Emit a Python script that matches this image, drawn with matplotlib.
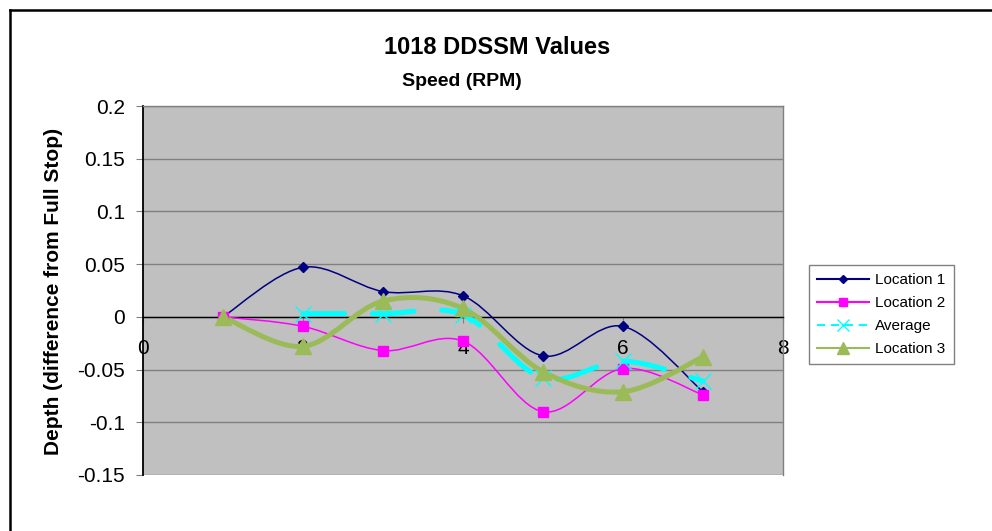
import matplotlib
matplotlib.use("Agg")
import matplotlib.pyplot as plt
from matplotlib.path import Path
from matplotlib.patches import PathPatch
from matplotlib.lines import Line2D
from matplotlib.ticker import FuncFormatter, MultipleLocator

plt.rcParams["font.family"] = ["Liberation Sans", "DejaVu Sans"]
plt.rcParams["axes.unicode_minus"] = False
plt.rcParams["lines.scale_dashes"] = False

# speed steps and measured depth offsets
speed = [1, 2, 3, 4, 5, 6, 7]
location_1 = [0.0, 0.047, 0.024, 0.020, -0.037, -0.009, -0.071]
location_2 = [0.0, -0.009, -0.032, -0.023, -0.090, -0.049, -0.074]
location_3 = [0.0, -0.028, 0.015, 0.008, -0.052, -0.071, -0.038]
avg_speed = [2, 3, 4, 5, 6, 7]
average = [0.003, 0.003, 0.002, -0.058, -0.042, -0.061]

series_names = ["Location 1", "Location 2", "Average", "Location 3"]


def smooth_path(xs, ys):
    """Bezier path through the points, like a spreadsheet 'smoothed line'."""
    pts = list(zip(xs, ys))
    n = len(pts)
    verts = [pts[0]]
    codes = [Path.MOVETO]
    for i in range(n - 1):
        p0 = pts[i - 1] if i > 0 else pts[i]
        p1 = pts[i]
        p2 = pts[i + 1]
        p3 = pts[i + 2] if i + 2 < n else pts[i + 1]
        c1 = (p1[0] + (p2[0] - p0[0]) / 6, p1[1] + (p2[1] - p0[1]) / 6)
        c2 = (p2[0] - (p3[0] - p1[0]) / 6, p2[1] - (p3[1] - p1[1]) / 6)
        verts += [c1, c2, p2]
        codes += [Path.CURVE4] * 3
    return Path(verts, codes)


fig = plt.figure(figsize=(9.92, 5.31), dpi=100)
ax = fig.add_axes([143 / 992, 1 - 475 / 531, 640 / 992, 369 / 531])
ax.set_facecolor("#C0C0C0")

ax.set_xlim(0, 8)
ax.set_ylim(-0.15, 0.2)
ax.xaxis.set_major_locator(MultipleLocator(2))
ax.yaxis.set_major_locator(MultipleLocator(0.05))
ax.yaxis.set_major_formatter(FuncFormatter(lambda v, p: "%g" % round(v, 2)))
ax.xaxis.set_major_formatter(FuncFormatter(lambda v, p: "%g" % v))

ax.grid(axis="y", color="#808080", linewidth=1.0)
ax.set_axisbelow(True)

# x axis crosses at zero
ax.spines["bottom"].set_position(("data", 0))
ax.spines["bottom"].set_color("black")
ax.spines["bottom"].set_linewidth(1.0)
ax.spines["left"].set_color("black")
ax.spines["left"].set_linewidth(1.3)
for side in ("top", "right"):
    ax.spines[side].set_color("#808080")
    ax.spines[side].set_linewidth(1.0)

ax.tick_params(axis="x", direction="out", length=4, color="#808080",
               labelsize=15, pad=12)
ax.tick_params(axis="y", direction="out", length=5, color="#808080",
               labelsize=15, pad=8)

styles = [
    dict(color="#000080", lw=1.1, marker="D", ms=5.5, mew=1, ls="-"),
    dict(color="#FF00FF", lw=1.1, marker="s", ms=7, mew=1, ls="-"),
    dict(color="#00FFFF", lw=3.6, marker="x", ms=11, mew=1, ls=(0, (30, 20))),
    dict(color="#9BBB59", lw=3.6, marker="^", ms=11, mew=1, ls="-"),
]
data = [(speed, location_1), (speed, location_2),
        (avg_speed, average), (speed, location_3)]

handles = []
for (xs, ys), st, name in zip(data, styles, series_names):
    patch = PathPatch(smooth_path(xs, ys), facecolor="none",
                      edgecolor=st["color"], linewidth=st["lw"],
                      linestyle=st["ls"], capstyle="round", zorder=3)
    ax.add_patch(patch)
    ax.plot(xs, ys, linestyle="none", marker=st["marker"], ms=st["ms"],
            mew=st["mew"], color=st["color"], zorder=4)
    legend_ls = (0, (6, 4)) if name == "Average" else "-"
    handles.append(Line2D([], [], color=st["color"], lw=1.5, ls=legend_ls,
                          marker=st["marker"], ms=st["ms"] * 0.75,
                          mew=st["mew"], label=name))

fig.legend(handles=handles, loc="upper left",
           bbox_to_anchor=(809 / 992, 1 - 265 / 531), borderaxespad=0,
           fontsize=11, frameon=True, fancybox=False, edgecolor="#808080",
           framealpha=1, borderpad=0.55, labelspacing=0.58,
           handlelength=3.4, handletextpad=0.4)

fig.text(497 / 992, 1 - 47 / 531, "1018 DDSSM Values", ha="center",
         va="center", fontsize=17, fontweight="bold")
fig.text(462 / 992, 1 - 81 / 531, "Speed (RPM)", ha="center", va="center",
         fontsize=14, fontweight="bold")
fig.text(54 / 992, 1 - 291 / 531, "Depth (difference from Full Stop)",
         ha="center", va="center", rotation=90, fontsize=15,
         fontweight="bold")

# outer chart frame (top and left edges)
fig.add_artist(Line2D([10 / 992, 1.0], [1 - 10 / 531] * 2, color="black",
                      lw=1.8, transform=fig.transFigure))
fig.add_artist(Line2D([10 / 992] * 2, [0.0, 1 - 10 / 531], color="black",
                      lw=1.8, transform=fig.transFigure))

fig.savefig("out.png", dpi=100)
